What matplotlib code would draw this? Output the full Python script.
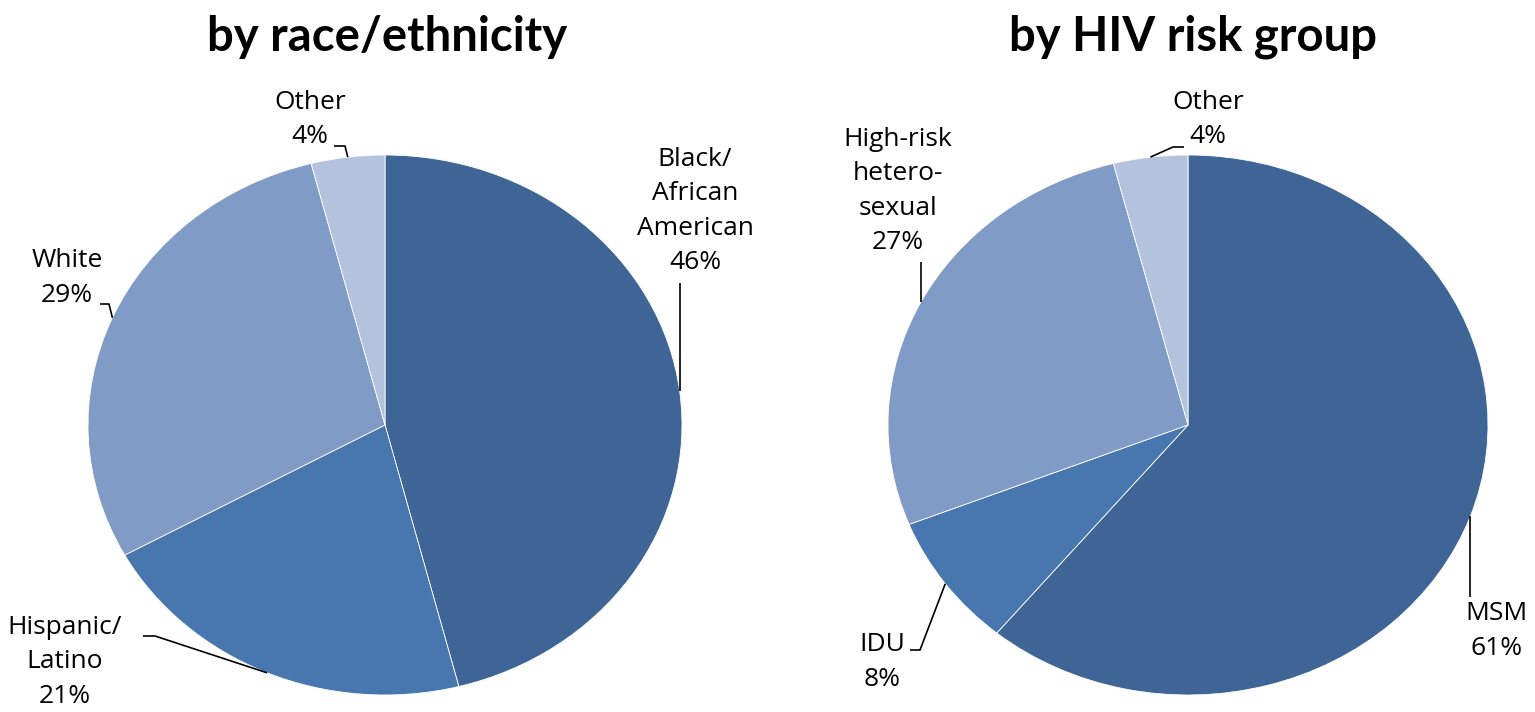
import numpy as np
import matplotlib
matplotlib.use("Agg")
import matplotlib.pyplot as plt

plt.rcParams['font.family'] = ['Open Sans', 'DejaVu Sans']

W, H = 1535, 712

# ---- data ----
race_labels = ["Black/\nAfrican\nAmerican", "Hispanic/\nLatino", "White", "Other"]
race_values = [46, 21, 29, 4]
risk_labels = ["MSM", "IDU", "High-risk\nhetero-\nsexual", "Other"]
risk_values = [61, 8, 27, 4]
titles = ["by race/ethnicity", "by HIV risk group"]

colors = ["#3E6595", "#4877AF", "#7F9BC6", "#B3C3DE"]

fig = plt.figure(figsize=(W / 100, H / 100), dpi=100)
overlay = fig.add_axes([0, 0, 1, 1], zorder=5)
overlay.set_xlim(0, W)
overlay.set_ylim(H, 0)
overlay.axis("off")
overlay.patch.set_alpha(0)


def pie_axes(x0, y0, x1, y1):
    ax = fig.add_axes([x0 / W, 1 - y1 / H, (x1 - x0) / W, (y1 - y0) / H])
    return ax


# layout: pie box in pixel coords, title center, label centres, leader waypoints
specs = [
    dict(box=(88, 155, 682, 695), title_xy=(387, 37),
         labels=race_labels, values=race_values,
         text_xy=[(695, 211), (65, 662), (67, 278), (310, 119.5)],
         waypts=[[("e", 283)], [(155, 636), (143, 636)],
                 [(109, 304), (100, 304)], [(345, 146), (334, 146)]]),
    dict(box=(888, 155, 1488, 695), title_xy=(1193, 37),
         labels=risk_labels, values=risk_values,
         text_xy=[(1497, 631), (882, 662), (898, 191), (1208, 119.5)],
         waypts=[[("e", 597)], [(920, 650), (910, 650)],
                 [("e", 262)], [(1173, 147), (1184, 147)]]),
]

for k, sp in enumerate(specs):
    ax = pie_axes(*sp["box"])
    vals = sp["values"]
    wedges, _ = ax.pie(vals, colors=colors, startangle=90, counterclock=False,
                       radius=1.0, wedgeprops=dict(edgecolor="white", linewidth=0.6))
    ax.set_aspect("auto")
    ax.set_xlim(-1, 1)
    ax.set_ylim(-1, 1)
    ax.axis("off")

    overlay.text(*sp["title_xy"], titles[k], ha="center", va="center",
                 fontsize=34, fontweight="bold", family=["Lato", "DejaVu Sans"])

    total = sum(vals)
    cum = 0
    for i, v in enumerate(vals):
        mid = cum + v / 2
        cum += v
        ang = np.deg2rad(90 - 360 * mid / total)
        ex, ey = np.cos(ang), np.sin(ang)
        px, py = overlay.transData.inverted().transform(
            ax.transData.transform((ex, ey)))
        pts = [(px, py)]
        for wx, wy in sp["waypts"][i]:
            pts.append((px if wx == "e" else wx, wy))
        xs, ys = zip(*pts)
        overlay.plot(xs, ys, color="black", lw=1.2, solid_capstyle="butt")
        tx, ty = sp["text_xy"][i]
        overlay.text(tx, ty, f"{sp['labels'][i]}\n{v}%", ha="center", va="center",
                     fontsize=19, linespacing=1.5, color="black")

fig.savefig("out.png", dpi=100)
